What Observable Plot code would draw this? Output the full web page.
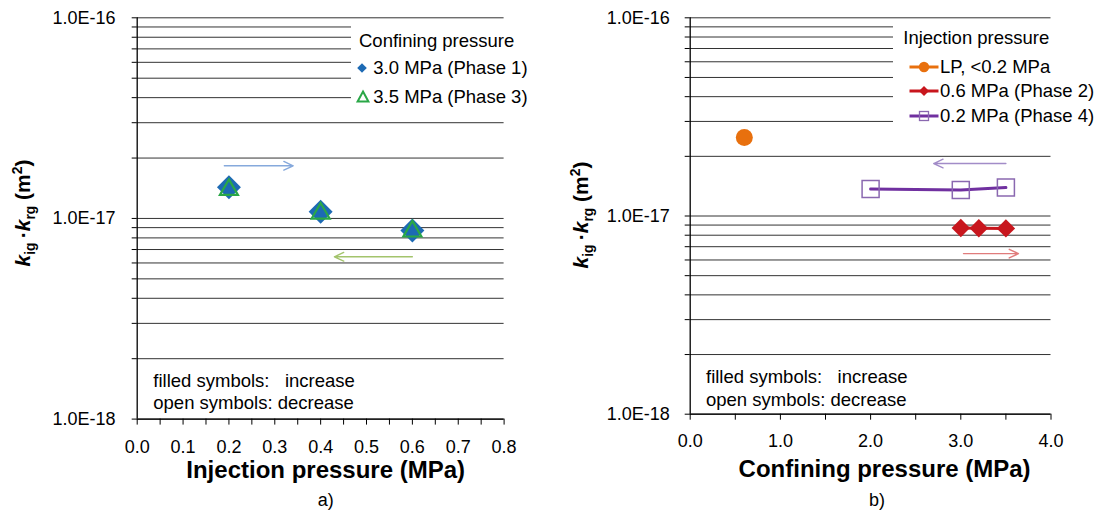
<!DOCTYPE html>
<html>
<head>
<meta charset="utf-8">
<script src="https://cdn.jsdelivr.net/npm/d3@7"></script>
<script src="https://cdn.jsdelivr.net/npm/@observablehq/plot@0.6"></script>
<style>
  body { margin: 0; background: #fff; font-family: "Liberation Sans", Arial, sans-serif; color: #000; }
  #page { position: relative; width: 1102px; height: 510px; overflow: hidden; }
  .panel { position: absolute; top: 0; }
  .abs { position: absolute; white-space: pre; line-height: 1; }
  .legend { position: absolute; background: #fff; }
  .ytitle { position: absolute; font-weight: bold; font-size: 21px; line-height: 1; white-space: nowrap;
            transform: translate(-50%, -50%) rotate(-90deg); }
  .ytitle sub, .ytitle sup { font-size: 0.66em; line-height: 0; }
</style>
</head>
<body>
<div id="page"></div>
<script>
// ---- panel a): k_ig·k_rg versus injection pressure ----
const injPressure = [0.2, 0.4, 0.6];
const kPhase1 = [1.43e-17, 1.08e-17, 0.871e-17];   // confining 3.0 MPa, increasing
const kPhase3 = [1.39e-17, 1.06e-17, 0.863e-17];   // confining 3.5 MPa, decreasing

// ---- panel b): k_ig·k_rg versus confining pressure ----
const confLP = [0.6];
const kLP = [2.49e-17];
const confPhase2 = [3.0, 3.2, 3.5];
const kPhase2 = [0.870e-17, 0.868e-17, 0.866e-17];
const confPhase4 = [2.0, 3.0, 3.5];
const kPhase4 = [1.367e-17, 1.352e-17, 1.393e-17];

// direction-of-change arrows: [start, end] along x, at a fixed k level
const arrowPhase1X = [0.19, 0.34], arrowPhase1K = 1.83e-17;
const arrowPhase3X = [0.60, 0.43], arrowPhase3K = 0.644e-17;
const arrowPhase4X = [3.5, 2.7],   arrowPhase4K = 1.84e-17;
const arrowPhase2X = [3.03, 3.64], arrowPhase2K = 0.646e-17;

// axes
const yDecades = [1e-18, 1e-17, 1e-16];
const yDecadeLabels = ["1.0E-18", "1.0E-17", "1.0E-16"];
const yMantissas = [1, 2, 3, 4, 5, 6, 7, 8, 9];
const xTicksA = [0, 0.1, 0.2, 0.3, 0.4, 0.5, 0.6, 0.7, 0.8];
const xLabelsA = ["0.0", "0.1", "0.2", "0.3", "0.4", "0.5", "0.6", "0.7", "0.8"];
const xMinorA = [0.05, 0.15, 0.25, 0.35, 0.45, 0.55, 0.65, 0.75];
const xTicksB = [0, 1, 2, 3, 4];
const xLabelsB = ["0.0", "1.0", "2.0", "3.0", "4.0"];
const xMinorB = [0.5, 1.5, 2.5, 3.5];

const FONT = '"Liberation Sans", Arial, sans-serif';
const C = {
  blue: "#1d6ab4", green: "#2aa747", orange: "#e8700e", red: "#c8161d",
  purple: "#7030a0", purpleSym: "#8a68b0",
  arrowBlue: "#86a9dc", arrowGreen: "#a3c46c", arrowPurple: "#a28cc8", arrowRed: "#e07c7c",
  grid: "#333"
};

// gridlines at every 1..9 × decade
const yGrid = yDecades.slice(0, -1).flatMap(d => yMantissas.map(m => m * d)).concat(yDecades.slice(-1));
const idx = arr => arr.map((_, i) => i);

function arrow(xs, k, color) {
  return Plot.arrow([xs], {
    x1: d => d[0], x2: d => d[1], y1: () => k, y2: () => k,
    stroke: color, strokeWidth: 1.4, headLength: 11, headAngle: 50
  });
}

function panel(o) {
  return Plot.plot({
    width: o.width, height: 510,
    marginLeft: o.ml, marginRight: o.mr, marginTop: o.mt, marginBottom: o.mb,
    style: { fontFamily: FONT, fontSize: "18px", color: "#000", background: "transparent", overflow: "visible" },
    x: { domain: o.xDomain, label: null },
    y: { type: "log", domain: [yDecades[0], yDecades[yDecades.length - 1]], label: null },
    marks: [
      Plot.ruleY(yGrid, { stroke: C.grid, strokeWidth: 1 }),
      Plot.axisY(yGrid, {
        tickSize: 5, tickPadding: o.padY, fontSize: 18, label: null,
        tickFormat: v => { const i = yDecades.indexOf(v); return i >= 0 ? yDecadeLabels[i] : ""; }
      }),
      Plot.axisX(o.xTicks, {
        tickSize: 6, tickPadding: o.padX, fontSize: 18, label: null,
        tickFormat: v => o.xLabels[o.xTicks.indexOf(v)]
      }),
      // minor x ticks, no labels
      Plot.axisX(o.xMinor, { tickSize: 6, label: null, fill: "none", stroke: "#000" }),
      Plot.ruleX([o.xDomain[0]], { stroke: "#000", strokeWidth: 1.3 }),
      Plot.ruleY([yDecades[0]], { stroke: "#000", strokeWidth: 1.3 }),
      ...o.marks,
      Plot.text([o.xTitle], { text: d => d, frameAnchor: "bottom", dx: o.titleDx, dy: o.titleDy,
                              fontWeight: "bold", fontSize: 24, lineAnchor: "middle" }),
      Plot.text([o.caption], { text: d => d, frameAnchor: "bottom", dx: o.capDx, dy: o.capDy,
                               fontSize: 18, lineAnchor: "middle" })
    ]
  });
}

const page = document.getElementById("page");

// panel a)
const svgA = panel({
  width: 551, ml: 136.7, mr: 47.4, mt: 17.3, mb: 91.4,
  xDomain: [0, 0.8], xTicks: xTicksA, xLabels: xLabelsA, xMinor: xMinorA,
  padX: 15.6, padY: 16.7,
  xTitle: "Injection pressure (MPa)", titleDx: 5, titleDy: 51,
  caption: "a)", capDx: 5, capDy: 81.4,
  marks: [
    arrow(arrowPhase1X, arrowPhase1K, C.arrowBlue),
    arrow(arrowPhase3X, arrowPhase3K, C.arrowGreen),
    Plot.dot(idx(injPressure), { x: i => injPressure[i], y: i => kPhase1[i], symbol: "diamond2",
                                 r: 10.8, fill: C.blue, stroke: "none" }),
    Plot.dot(idx(injPressure), { x: i => injPressure[i], y: i => kPhase3[i], symbol: "triangle2",
                                 r: 8.6, fill: "none", stroke: C.green, strokeWidth: 2.2 })
  ]
});
const wrapA = document.createElement("div");
wrapA.className = "panel"; wrapA.style.left = "0px";
wrapA.append(svgA); page.append(wrapA);

// panel b)
const svgB = panel({
  width: 551, ml: 138.7, mr: 51.5, mt: 17.3, mb: 96.3,
  xDomain: [0, 4], xTicks: xTicksB, xLabels: xLabelsB, xMinor: xMinorB,
  padX: 14, padY: 15.4,
  xTitle: "Confining pressure (MPa)", titleDx: 14, titleDy: 55,
  caption: "b)", capDx: 6.4, capDy: 86.3,
  marks: [
    arrow(arrowPhase4X, arrowPhase4K, C.arrowPurple),
    arrow(arrowPhase2X, arrowPhase2K, C.arrowRed),
    Plot.dot(idx(confLP), { x: i => confLP[i], y: i => kLP[i], r: 8.5, fill: C.orange, stroke: "none" }),
    Plot.line(idx(confPhase2), { x: i => confPhase2[i], y: i => kPhase2[i], stroke: C.red, strokeWidth: 3 }),
    Plot.dot(idx(confPhase2), { x: i => confPhase2[i], y: i => kPhase2[i], symbol: "diamond2",
                                r: 8.3, fill: C.red, stroke: "none" }),
    Plot.line(idx(confPhase4), { x: i => confPhase4[i], y: i => kPhase4[i], stroke: C.purple, strokeWidth: 3 }),
    Plot.dot(idx(confPhase4), { x: i => confPhase4[i], y: i => kPhase4[i], symbol: "square",
                                r: 9.6, fill: "none", stroke: C.purpleSym, strokeWidth: 1.5 })
  ]
});
const wrapB = document.createElement("div");
wrapB.className = "panel"; wrapB.style.left = "551px";
wrapB.append(svgB); page.append(wrapB);

// ---- html overlays: legends, notes, y titles ----
function addText(parent, str, left, centerY, size) {
  const el = document.createElement("div");
  el.className = "abs";
  el.textContent = str;
  el.style.left = left + "px";
  el.style.top = (centerY - 0.49 * size) + "px";
  el.style.fontSize = size + "px";
  parent.append(el);
  return el;
}

function addIcon(parent, cx, cy, draw) {
  const w = 40, h = 22;
  const svg = d3.select(parent).append("svg")
    .attr("width", w).attr("height", h)
    .style("position", "absolute").style("overflow", "visible")
    .style("left", (cx - w / 2) + "px").style("top", (cy - h / 2) + "px");
  draw(svg.append("g").attr("transform", `translate(${w / 2},${h / 2})`));
}

// legend a)
const legA = document.createElement("div");
legA.className = "legend";
Object.assign(legA.style, { left: "351px", top: "22px", width: "195px", height: "90px" });
page.append(legA);
addText(legA, "Confining pressure", 8, 18.7, 18.5);
addIcon(legA, 11.3, 45.7, g => g.append("path").attr("d", "M0,-4.8L4.8,0L0,4.8L-4.8,0Z").attr("fill", C.blue));
addText(legA, "3.0 MPa (Phase 1)", 22.3, 45.7, 18.5);
addIcon(legA, 11.7, 75.3, g => g.append("path").attr("d", "M0,-5.5L5.4,4.6L-5.4,4.6Z")
  .attr("fill", "none").attr("stroke", C.green).attr("stroke-width", 2));
addText(legA, "3.5 MPa (Phase 3)", 22.3, 75.3, 18.5);

// legend b)
const legB = document.createElement("div");
legB.className = "legend";
Object.assign(legB.style, { left: "893.2px", top: "21px", width: "208px", height: "117px" });
page.append(legB);
addText(legB, "Injection pressure", 10.1, 17.3, 18.5);
const seriesLine = (g, color) => g.append("line").attr("x1", -14.5).attr("x2", 14.5)
  .attr("stroke", color).attr("stroke-width", 3);
addIcon(legB, 30.8, 45.7, g => { seriesLine(g, C.orange); g.append("circle").attr("r", 5.2).attr("fill", C.orange); });
addText(legB, "LP, <0.2 MPa", 46.8, 45.7, 18.5);
addIcon(legB, 30.8, 69.7, g => { seriesLine(g, C.red);
  g.append("path").attr("d", "M0,-5L5,0L0,5L-5,0Z").attr("fill", C.red); });
addText(legB, "0.6 MPa (Phase 2)", 46.8, 69.7, 18.5);
addIcon(legB, 30.8, 94.7, g => { seriesLine(g, C.purple);
  g.append("rect").attr("x", -4.5).attr("y", -4.5).attr("width", 9).attr("height", 9)
   .attr("fill", "none").attr("stroke", C.purpleSym).attr("stroke-width", 1.3); });
addText(legB, "0.2 MPa (Phase 4)", 46.8, 94.7, 18.5);

// symbol notes
addText(page, "filled symbols:   increase", 153.3, 380.7, 18.5);
addText(page, "open symbols: decrease", 153.3, 402.7, 18.5);
addText(page, "filled symbols:   increase", 706, 377, 18.5);
addText(page, "open symbols: decrease", 706, 400.5, 18.5);

// rotated y-axis titles
function addYTitle(cx, cy) {
  const el = document.createElement("div");
  el.className = "ytitle";
  el.innerHTML = "<i>k</i><sub>ig</sub>&#8201;·<i>k</i><sub>rg</sub> (m<sup>2</sup>)";
  el.style.left = cx + "px";
  el.style.top = cy + "px";
  page.append(el);
}
addYTitle(21.7, 213);
addYTitle(580, 215);
</script>
</body>
</html>
